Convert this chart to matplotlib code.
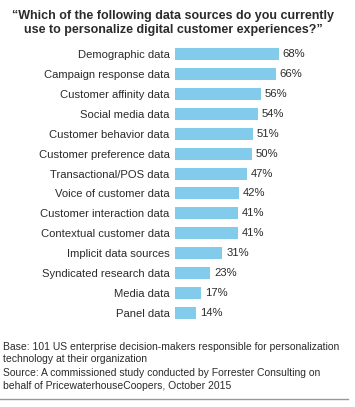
import matplotlib
matplotlib.use("Agg")
import matplotlib.pyplot as plt
from matplotlib.lines import Line2D

categories = ["Demographic data", "Campaign response data", "Customer affinity data",
              "Social media data", "Customer behavior data", "Customer preference data",
              "Transactional/POS data", "Voice of customer data", "Customer interaction data",
              "Contextual customer data", "Implicit data sources", "Syndicated research data",
              "Media data", "Panel data"]
values = [68, 66, 56, 54, 51, 50, 47, 42, 41, 41, 31, 23, 17, 14]

title_lines = ["\u201cWhich of the following data sources do you currently",
               "use to personalize digital customer experiences?\u201d"]
note_lines = ["Base: 101 US enterprise decision-makers responsible for personalization",
              "technology at their organization",
              "Source: A commissioned study conducted by Forrester Consulting on",
              "behalf of PricewaterhouseCoopers, October 2015"]

W, H = 355, 407
plt.rcParams['font.family'] = ['Liberation Sans', 'DejaVu Sans']
txt = "#2b2b2b"
bar_color = "#82CBEB"

fig = plt.figure(figsize=(W / 100, H / 100), dpi=100)
fig.patch.set_facecolor("white")

ax_left, ax_right = 175, 355
ax_top, ax_bot = 44, 323
ax = fig.add_axes([ax_left / W, 1 - ax_bot / H, (ax_right - ax_left) / W, (ax_bot - ax_top) / H])
pos = list(range(len(categories)))
ax.barh(pos, values, height=0.6, color=bar_color, edgecolor="none")
ax.set_xlim(0, (ax_right - ax_left) / 1.53)
ax.set_ylim(len(categories) - 0.5, -0.5)
for s in ax.spines.values():
    s.set_visible(False)
ax.set_xticks([])
ax.set_yticks(pos)
ax.set_yticklabels(categories, fontsize=8.1, color=txt)
ax.tick_params(axis="y", length=0, pad=4)
for p, v in zip(pos, values):
    ax.text(v + 2.5, p, f"{v}%", va="center", ha="left", fontsize=8.1, color=txt)

for y, line in zip([19.5, 33.5], title_lines):
    fig.text(173 / W, 1 - y / H, line, ha="center", va="baseline", fontsize=9,
             fontweight="bold", color=txt)
for y, line in zip([350, 362.5, 376.5, 389], note_lines):
    fig.text(3 / W, 1 - y / H, line, ha="left", va="baseline", fontsize=7.5, color=txt)
fig.add_artist(Line2D([0, 348 / W], [1 - 398.5 / H, 1 - 398.5 / H], transform=fig.transFigure,
                      color="#999999", lw=1.0))

fig.savefig("out.png", dpi=100)
